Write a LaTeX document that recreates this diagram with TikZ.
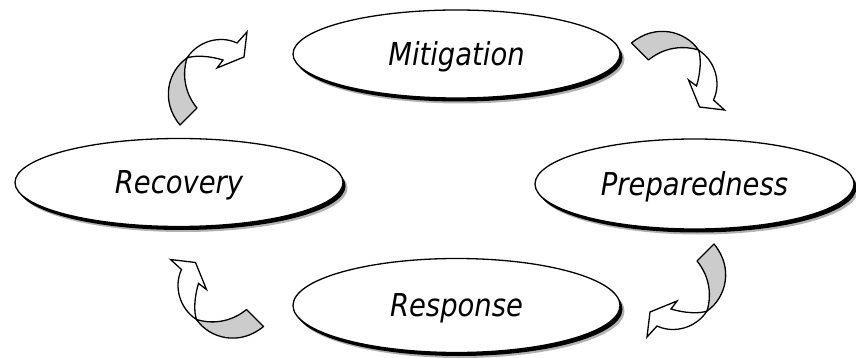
\documentclass[tikz,border=0pt]{standalone}
\usepackage{fontspec}
\setmainfont{DejaVu Sans}[ItalicFont={DejaVu Sans Oblique},FakeStretch=0.87]
\usetikzlibrary{shapes.geometric,shadows}
\definecolor{arrowgray}{RGB}{204,204,204}
\tikzset{
  phase/.style={ellipse, draw=black, line width=1.3pt, fill=white,
    inner sep=0pt, text depth=0pt,
    font=\itshape\fontsize{31.5}{36}\selectfont,
    drop shadow={shadow xshift=4.5pt, shadow yshift=-5.5pt, opacity=0.3, fill=black},
    drop shadow={shadow xshift=2.5pt, shadow yshift=-3.5pt, opacity=1, fill=black}},
  backside/.style={draw=black, line width=1.3pt, fill=arrowgray, line join=round},
  frontside/.style={draw=black, line width=1.3pt, fill=white, line join=miter},
}
\newcommand{\cyclearrow}{%
  \path[backside] (-28,46) -- (-11,29) .. controls (-21,17) and (-27,-1) .. (-21,-21)
     .. controls (-40,-8) and (-48,22) .. (-28,46) -- cycle;
  \path[frontside] (-21,-21) .. controls (-10,-38) and (12,-44) .. (29,-36)
     -- (39,-47) -- (36,-22) -- (9,-11) -- (15,-19)
     .. controls (2,-23) and (-13,-24) .. (-21,-21) -- cycle;}
\begin{document}
\begin{tikzpicture}[x=1pt,y=-1pt]
\useasboundingbox (0,0) rectangle (856,358);
\node[phase, minimum width=327pt, minimum height=88pt] (mit) at (456.5,54) {Mitigation};
\node[phase, minimum width=328pt, minimum height=88pt] (rec) at (179,182.5) {Recovery};
\node[phase, minimum width=319pt, minimum height=90pt] (pre) at (694.5,184) {Preparedness};
\node[phase, minimum width=327pt, minimum height=94pt] (res) at (456.5,305.5) {Response};
\begin{scope}[shift={(208,79)}]\cyclearrow\end{scope}
\begin{scope}[shift={(677.5,71)}, rotate=-90]\cyclearrow\end{scope}
\begin{scope}[shift={(686,290)}, rotate=180]\cyclearrow\end{scope}
\begin{scope}[shift={(217.5,298.5)}, rotate=90]\cyclearrow\end{scope}
\end{tikzpicture}
\end{document}
